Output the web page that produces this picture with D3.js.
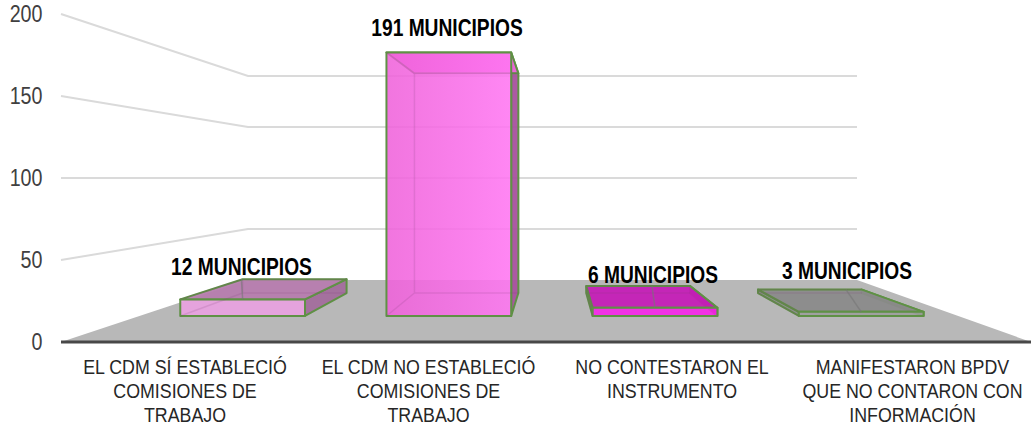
<!DOCTYPE html>
<html>
<head>
<meta charset="utf-8">
<script src="https://cdn.jsdelivr.net/npm/d3@7"></script>
<style>
html, body { margin: 0; padding: 0; background: #fff; overflow: hidden; }
text { font-family: "Liberation Sans", Arial, sans-serif; }
</style>
</head>
<body>
<div id="chart"></div>
<script>
var categories = [
    ["EL CDM SÍ ESTABLECIÓ", "COMISIONES DE", "TRABAJO"],
    ["EL CDM NO ESTABLECIÓ", "COMISIONES DE", "TRABAJO"],
    ["NO CONTESTARON EL", "INSTRUMENTO"],
    ["MANIFESTARON BPDV", "QUE NO CONTARON CON", "INFORMACIÓN"]
];
var values = [12, 191, 6, 3];
var value_labels = ["12 MUNICIPIOS", "191 MUNICIPIOS", "6 MUNICIPIOS", "3 MUNICIPIOS"];
var y_ticks = [0, 50, 100, 150, 200];

// look of each bar: front, top, side
var front_colors = ["#eb9fe1", "url(#tall_front)", "#f81fe9", "#9c9c9c"];
var top_colors = ["#b67cae", "#f066dc", "#c41db6", "#8a8a8a"];
var side_colors = ["#a26d9c", "#a8509e", "#b01ca6", "#8a8a8a"];

var width = 1031;
var height = 427;

// floor corners, depth 0 is the front edge and 1 the back edge
var front_left = 61, front_right = 1042, back_left = 248, back_right = 857;
var front_y = 342, back_y = 280;
var bar_near = 0.42, bar_far = 0.79, bar_width = 0.605;

var front_value = d3.scaleLinear().domain([0, 200]).range([front_y, 14]);
var back_value = d3.scaleLinear().domain([0, 200]).range([back_y, 76]);

// band position + depth + value to screen
function project(p_band, p_depth, p_value)
{
    var left = front_left + (back_left - front_left) * p_depth;
    var right = front_right + (back_right - front_right) * p_depth;
    var x = d3.scaleLinear().domain([0, categories.length]).range([left, right])(p_band);
    var y = front_value(p_value) + (back_value(p_value) - front_value(p_value)) * p_depth;
    return [x, y];
}

var svg = d3.select("#chart").append("svg")
    .attr("width", width)
    .attr("height", height)
    .style("display", "block");

var gradient = svg.append("defs").append("linearGradient").attr("id", "tall_front");
gradient.append("stop").attr("offset", "0%").attr("stop-color", "#ef62da");
gradient.append("stop").attr("offset", "100%").attr("stop-color", "#ff76f2");

// grid lines, slanted on the left wall then flat along the back
y_ticks.filter(function(d) { return d > 0; }).forEach(function(tick)
{
    svg.append("polyline")
        .attr("points", [[front_left, front_value(tick)], [back_left, back_value(tick)], [back_right, back_value(tick)]].join(" "))
        .attr("fill", "none")
        .attr("stroke", "#dadada")
        .attr("stroke-width", 2);
});

// floor
svg.append("polygon")
    .attr("points", [project(0, 1, 0), project(categories.length, 1, 0), [width, front_y], [front_left, front_y]].join(" "))
    .attr("fill", "#b8b8b8");

svg.append("line")
    .attr("x1", front_left).attr("x2", width)
    .attr("y1", front_y).attr("y2", front_y)
    .attr("stroke", "#484848")
    .attr("stroke-width", 3);

// y axis, the source font is a narrow one so the glyphs get squeezed
var y_axis = d3.axisLeft(front_value).tickValues(y_ticks).tickSize(0).tickPadding(0);
var y_group = svg.append("g").attr("transform", "translate(42.5,0)").call(y_axis);
y_group.select(".domain").remove();
y_group.selectAll("text")
    .attr("font-size", 24)
    .attr("fill", "#404040")
    .attr("transform", "scale(0.82,1)")
    .style("font-family", null);

function face(p_group, p_points, p_fill, p_opacity)
{
    p_group.append("polygon")
        .attr("points", p_points.join(" "))
        .attr("fill", p_fill)
        .attr("fill-opacity", p_opacity)
        .attr("stroke", "#5f9145")
        .attr("stroke-width", 2)
        .attr("stroke-linejoin", "round");
}

values.forEach(function(value, i)
{
    var group = svg.append("g");
    var a = i + 0.5 - bar_width / 2;
    var b = i + 0.5 + bar_width / 2;

    var fbl = project(a, bar_near, 0), fbr = project(b, bar_near, 0);
    var ftl = project(a, bar_near, value), ftr = project(b, bar_near, value);
    var bbl = project(a, bar_far, 0), bbr = project(b, bar_far, 0);
    var btl = project(a, bar_far, value), btr = project(b, bar_far, value);

    // the left side only shows on the bars right of the middle
    if(btl[0] < ftl[0])
    {
        face(group, [fbl, ftl, btl, bbl], top_colors[i], 0.95);
    }
    face(group, [fbr, ftr, btr, bbr], side_colors[i], 0.95);
    face(group, [ftl, ftr, btr, btl], top_colors[i], 0.95);
    face(group, [fbl, fbr, ftr, ftl], front_colors[i], 0.88);

    // far edges seen through the faces
    group.append("path")
        .attr("d", d3.line()([bbl, btl]) + d3.line()([btl, btr]) + d3.line()([ftl, btl]) + d3.line()([fbl, bbl]) + d3.line()([bbl, bbr]))
        .attr("fill", "none")
        .attr("stroke", "#7a3f78")
        .attr("stroke-opacity", 0.16)
        .attr("stroke-width", 1.5);
});

// faint line across the low bars, back band position to the bar's front middle
var low_bars = [0, 2, 3];
var ridge_back = [0.19, 2.58, 3.71];
low_bars.forEach(function(bar, i)
{
    svg.append("line")
        .attr("x1", project(ridge_back[i], bar_far, values[bar])[0])
        .attr("y1", project(ridge_back[i], bar_far, values[bar])[1])
        .attr("x2", project(bar + 0.5, bar_near, values[bar])[0])
        .attr("y2", project(bar + 0.5, bar_near, values[bar])[1])
        .attr("stroke", "#777")
        .attr("stroke-opacity", 0.6)
        .attr("stroke-width", 1.5);
});

// value labels
var label_x = [241.5, 447, 653, 847];
var label_y = [275, 36, 283, 279];
svg.selectAll(".value_label")
    .data(value_labels)
    .enter().append("text")
    .attr("class", "value_label")
    .attr("transform", function(d, i) { return "translate(" + label_x[i] + "," + label_y[i] + ") scale(0.835,1)"; })
    .attr("text-anchor", "middle")
    .attr("font-size", 23)
    .attr("font-weight", "bold")
    .attr("fill", "#000")
    .text(function(d) { return d; });

// category labels, wrapped by hand as in the source
var category_x = [185, 428.5, 672, 912.5];
categories.forEach(function(lines, i)
{
    var text = svg.append("text")
        .attr("transform", "translate(" + category_x[i] + ",374) scale(0.89,1)")
        .attr("text-anchor", "middle")
        .attr("font-size", 20)
        .attr("fill", "#262626");
    lines.forEach(function(line, j)
    {
        text.append("tspan")
            .attr("x", 0)
            .attr("y", j * 24)
            .text(line);
    });
});
</script>
</body>
</html>
